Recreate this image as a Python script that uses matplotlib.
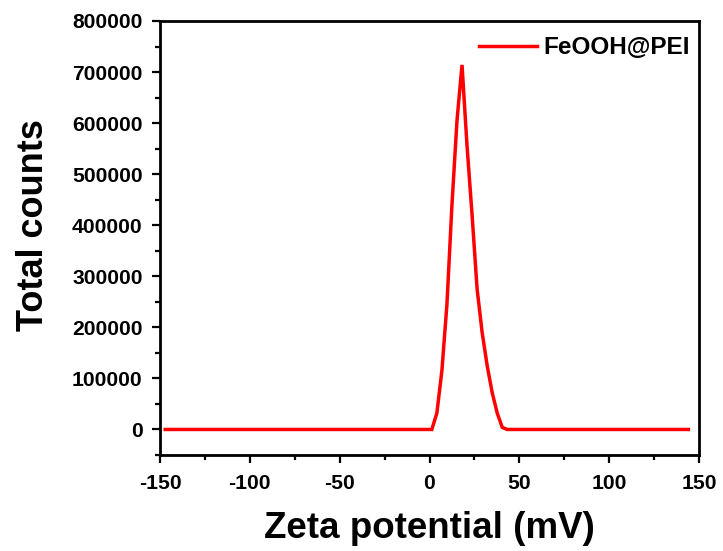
import matplotlib
matplotlib.use("Agg")
import matplotlib.pyplot as plt
from matplotlib.ticker import MultipleLocator, StrMethodFormatter

# Data (zeta potential distribution)
zeta_mv = [-147.1, -1.5, 1.3, 4.1, 6.9, 9.7, 12.5, 15.3, 18.1, 20.9, 23.7,
           26.5, 29.3, 32.1, 34.9, 37.7, 40.5, 43.3, 144.1]
total_counts = [0, 0, 0, 32000, 115000, 245000, 440000, 605000, 714000, 555000,
                420000, 275000, 190000, 125000, 72000, 32000, 4000, 0, 0]
series_label = "FeOOH@PEI"
x_ticks = [-150, -100, -50, 0, 50, 100, 150]
y_ticks = [0, 100000, 200000, 300000, 400000, 500000, 600000, 700000, 800000]

plt.rcParams['font.family'] = ['Liberation Sans', 'DejaVu Sans']
plt.rcParams['font.weight'] = 'bold'
plt.rcParams['axes.unicode_minus'] = False

W, H = 723, 551
fig = plt.figure(figsize=(W / 100, H / 100), dpi=100)
L, R, T, B = 160, 699, 21, 455
ax = fig.add_axes([L / W, 1 - B / H, (R - L) / W, (B - T) / H])

ax.plot(zeta_mv, total_counts, color='#ff0000', lw=2.5, label=series_label,
        solid_joinstyle='miter')

ax.set_xlim(-150, 150)
ax.set_ylim(-50000, 800000)
ax.set_xticks(x_ticks)
ax.set_yticks(y_ticks)
ax.xaxis.set_minor_locator(MultipleLocator(25))
ax.yaxis.set_minor_locator(MultipleLocator(50000))
ax.yaxis.set_major_formatter(StrMethodFormatter('{x:.0f}'))

for s in ax.spines.values():
    s.set_linewidth(2.0)
ax.tick_params(which='both', direction='out', top=False, right=False, width=1.6)
ax.tick_params(which='major', length=6)
ax.tick_params(axis='y', which='major', pad=6.5)
ax.tick_params(axis='x', which='major', pad=7.5)
ax.tick_params(which='minor', length=3.5)
for lab in ax.get_xticklabels() + ax.get_yticklabels():
    lab.set_fontweight('bold')
    lab.set_fontsize(15.2)

ax.set_xlabel('Zeta potential (mV)', fontsize=26.5, fontweight='bold')
ax.set_ylabel('Total counts', fontsize=26, fontweight='bold')
ax.xaxis.set_label_coords(0.5, -0.128)
ax.yaxis.set_label_coords(-0.203, 0.53)

leg = ax.legend(loc='center left', bbox_to_anchor=(479 / W, 1 - 48 / H),
                bbox_transform=fig.transFigure, frameon=False,
                prop={'size': 17.5, 'weight': 'bold'}, handlelength=2.4,
                handletextpad=0.26, borderpad=0, borderaxespad=0)

fig.savefig('out.png', dpi=100)
